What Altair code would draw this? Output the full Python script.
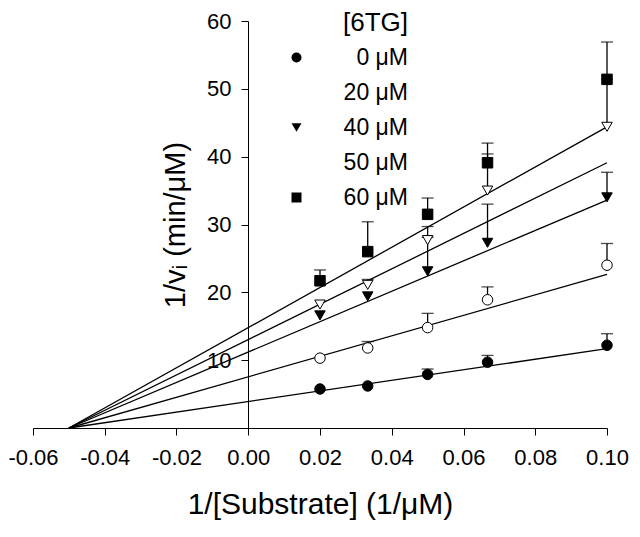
import altair as alt
import pandas as pd

# ---- data ----
x_vals = [0.02, 0.0333, 0.05, 0.0667, 0.10]
series = ["0 μM", "20 μM", "40 μM", "50 μM", "60 μM"]

y_0 = [5.75, 6.2, 7.9, 9.7, 12.2]
y_20 = [10.3, 11.8, 14.8, 18.9, 24.0]
y_40 = [16.6, 19.4, 23.1, 27.3, 34.0]
y_50 = [18.2, 21.1, 27.7, 35.0, 44.4]
y_60 = [21.7, 26.0, 31.5, 39.1, 51.4]

e_0 = [0, 0, 0.8, 1.0, 1.7]
e_20 = [0, 0.95, 2.1, 1.9, 3.2]
e_40 = [0, 0, 5.0, 5.7, 3.7]
e_50 = [0, 0.8, 2.0, 5.4, 7.0]
e_60 = [1.6, 4.4, 2.4, 2.9, 5.5]

fit_x = [-0.05, 0.10]
fit_0 = [0.0, 11.7]
fit_20 = [0.0, 22.65]
fit_40 = [0.0, 33.6]
fit_50 = [0.0, 39.1]
fit_60 = [0.0, 44.4]

shapes = ["circle", "circle", "triangle-down", "triangle-down", "square"]
fills = ["black", "white", "black", "white", "black"]

ys = [y_0, y_20, y_40, y_50, y_60]
es = [e_0, e_20, e_40, e_50, e_60]
fits = [fit_0, fit_20, fit_40, fit_50, fit_60]

rows = []
for s, yy, ee in zip(series, ys, es):
    for x, y, e in zip(x_vals, yy, ee):
        rows.append({"series": s, "x": x, "y": y, "top": y + e, "err": e})
pts = pd.DataFrame(rows)

frows = []
for s, ff in zip(series, fits):
    for x, y in zip(fit_x, ff):
        frows.append({"series": s, "x": x, "y": y})
fit_df = pd.DataFrame(frows)

FONT = "Liberation Sans"

x_ticks = [round(-0.06 + 0.01 * i, 2) for i in range(17)]
y_ticks = list(range(0, 65, 5))

xscale = alt.Scale(domain=[-0.06, 0.10], nice=False, zero=False)
yscale = alt.Scale(domain=[0, 60], nice=False, zero=False)

x_axis = alt.Axis(
    values=x_ticks,
    labelExpr="round(datum.value*100) % 2 == 0 ? (datum.value < 0 ? '-' + format(-datum.value, '.2f') : format(datum.value, '.2f')) : ''",
    grid=False, tickSize=7, tickColor="black", domainColor="black",
    labelColor="black", labelFontSize=22, labelFont=FONT, labelPadding=12,
    labelFlush=False, labelOverlap=False,
    title="1/[Substrate] (1/μM)", titleFont=FONT, titleFontSize=30,
    titleFontWeight="normal", titleColor="black", titlePadding=21,
)
y_axis = alt.Axis(
    values=y_ticks,
    labelExpr="datum.value % 10 == 0 && datum.value > 0 ? datum.value : ''",
    grid=False, tickSize=7, tickColor="black", domainColor="black",
    labelColor="black", labelFontSize=22, labelFont=FONT, labelPadding=10,
    labelOverlap=False, offset=-215,
    title="1/vᵢ (min/μM)", titleFont=FONT, titleFontSize=29,
    titleFontWeight="normal", titleColor="black", titlePadding=16,
)

lines = alt.Chart(fit_df).mark_line(color="black", strokeWidth=1.3).encode(
    x=alt.X("x:Q", scale=xscale, axis=x_axis),
    y=alt.Y("y:Q", scale=yscale, axis=y_axis),
    detail="series:N",
)

err_df = pts[pts["err"] > 0]
bars = alt.Chart(err_df).mark_rule(color="black", strokeWidth=1.3).encode(
    x="x:Q", y="y:Q", y2="top:Q"
)
caps = alt.Chart(err_df).mark_tick(color="black", orient="horizontal", size=12, thickness=1.3).encode(
    x="x:Q", y="top:Q"
)

points = alt.Chart(pts).mark_point(size=110, stroke="black", strokeWidth=1, opacity=1).encode(
    x="x:Q",
    y="y:Q",
    shape=alt.Shape("series:N", scale=alt.Scale(domain=series, range=shapes), title="[6TG]\u00a0"),
    fill=alt.Fill("series:N", scale=alt.Scale(domain=series, range=fills), title="[6TG]\u00a0"),
)

chart = alt.layer(lines, bars, caps, points).properties(
    width=574, height=407,
    autosize=alt.AutoSizeParams(type="none"),
    padding={"left": 25, "top": 13, "right": 25, "bottom": 97},
).configure_view(stroke=None).configure_legend(
    orient="none", legendX=252, legendY=-11,
    titleFont=FONT, titleFontSize=26, titleFontWeight="normal", titleColor="black",
    titleAnchor="end", titlePadding=10,
    labelFont=FONT, labelFontSize=23, labelColor="black", labelOffset=100,
    labelAlign="right",
    symbolSize=100, symbolStrokeColor="black", symbolStrokeWidth=1,
    rowPadding=11, labelLimit=0,
)

chart.save("out.html", embed_options={"renderer": "svg", "actions": False})
